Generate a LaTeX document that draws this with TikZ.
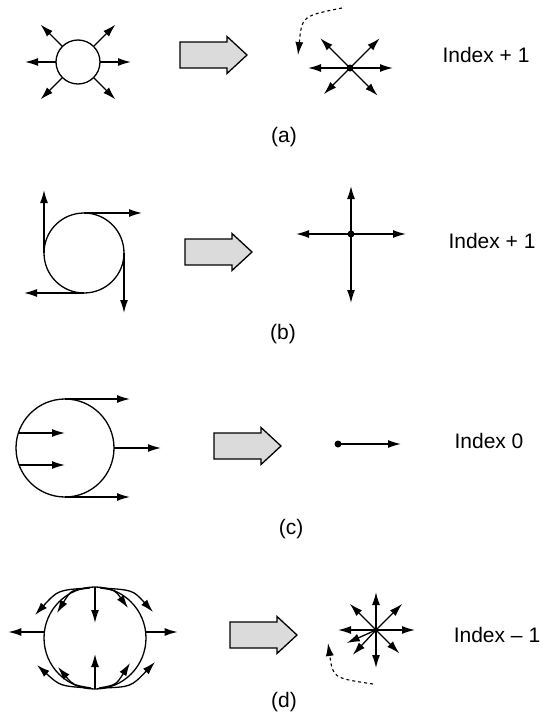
\documentclass[tikz,border=0pt]{standalone}
\usepackage{fontspec}
\setmainfont{Liberation Sans}
\usetikzlibrary{arrows.meta,calc}

\begin{document}
\begin{tikzpicture}[x=1pt,y=-1pt,line width=1.3pt,font=\fontsize{21}{25}\selectfont,
  vec/.style={-{Latex[length=13pt,width=8pt]}},
  blk/.style={draw,fill=gray!28,line join=miter},
  lbl/.style={inner sep=0pt}]
\useasboundingbox (0,0) rectangle (549,715);
% (a)
\coordinate (Ca) at (78,62);
\draw (Ca) circle[radius=22];
\foreach \a in {0,45,135,180,225,315}{\draw[vec] ($(Ca)+(\a:22)$)--($(Ca)+(\a:53)$);}
\coordinate (Sa) at (350,68);
\fill (Sa) circle[radius=3.5];
\foreach \a/\l in {0/43,180/42,225/42,315/42,135/37,45/39}{\draw[vec] (Sa)--++(\a:\l);}
\coordinate (Da1) at (342,8); \coordinate (Da2) at (298,55);
\draw[vec,dashed,line width=1.1pt] (Da1) .. controls (302,16) .. (Da2);
\node[lbl] (ia) at (486,55){Index + 1};
\node[lbl] (ca) at (284,137){(a)};
% (b)
\coordinate (Cb) at (84,253);
\draw (Cb) circle[radius=40];
\draw[vec] ($(Cb)+(-40,0)$)--++(0,-63); \draw[vec] ($(Cb)+(0,-40)$)--++(58,0);
\draw[vec] ($(Cb)+(40,0)$)--++(0,60); \draw[vec] ($(Cb)+(0,40)$)--++(-60,0);
\coordinate (Sb) at (351,234);
\fill (Sb) circle[radius=3.5];
\foreach \a/\l in {0/55,180/55,270/48,90/69}{\draw[vec] (Sb)--++(\a:\l);}
\node[lbl] (ib) at (492,241){Index + 1};
\node[lbl] (cb) at (283,334){(b)};
% (c)
\coordinate (Cc) at (65,448);
\draw (Cc) circle[radius=49];
\draw[vec] ($(Cc)+(0,-49)$)--++(65,0); \draw[vec] ($(Cc)+(0,49)$)--++(65,0);
\draw[vec] ($(Cc)+(49,0)$)--++(47,0);
\draw[vec] ($(Cc)+(-46.6,-15)$)--($(Cc)+(0,-15)$); \draw[vec] ($(Cc)+(-46,17)$)--($(Cc)+(0,17)$);
\coordinate (Pc) at (338,444);
\fill (Pc) circle[radius=3.5];
\draw[vec] (Pc)--++(63,0);
\node[lbl] (ic) at (489,441){Index 0};
\node[lbl] (cc) at (291,529){(c)};
% (d)
\coordinate (Cd) at (95,638);
\draw (Cd) circle[radius=51];
\draw[vec] ($(Cd)+(0,-51)$)--++(0,36); \draw[vec] ($(Cd)+(0,51)$)--++(0,-35);
\draw[vec] ($(Cd)+(-50.6,-6)$)--++(-36,0); \draw[vec] ($(Cd)+(50.6,-6)$)--++(32,0);
\draw[vec] (89,588) .. controls (58,590) .. (35,615);
\draw[vec] (90,588) .. controls (71,590) .. (57,613);
\draw[vec] (100,588) .. controls (115,590) .. (128,608);
\draw[vec] (102,588) .. controls (133,590) .. (153,612);
\draw[vec] (89,688) .. controls (60,686) .. (37,665);
\draw[vec] (91,688) .. controls (73,685) .. (58,667);
\draw[vec] (99,688) .. controls (116,685) .. (130,663);
\draw[vec] (101,688) .. controls (131,687) .. (155,662);
\coordinate (Sd) at (376,630);
\fill (Sd) circle[radius=2.5];
\foreach \a/\l in {0/39,180/38,270/38,90/38,225/37,315/37,45/33,156/32,133/34}{\draw[vec] (Sd)--++(\a:\l);}
\coordinate (Dd1) at (373,684); \coordinate (Dd2) at (328,643);
\draw[vec,dashed,line width=1.1pt] (Dd1) .. controls (333,678) .. (Dd2);
\node[lbl] (id) at (497,635){Index -- 1};
\node[lbl] (cd) at (284,702){(d)};
% block arrows
\coordinate (Ba) at (180,55); \coordinate (Bb) at (185,252);
\coordinate (Bc) at (214,446); \coordinate (Bd) at (230,635);
\foreach \b in {Ba,Bb,Bc,Bd}{\draw[blk] ($(\b)+(0,-13)$)--++(47,0)--++(0,-5.5)--++(20,18.5)--++(-20,18.5)--++(0,-5.5)--++(-47,0)--cycle;}
\end{tikzpicture}
\end{document}
